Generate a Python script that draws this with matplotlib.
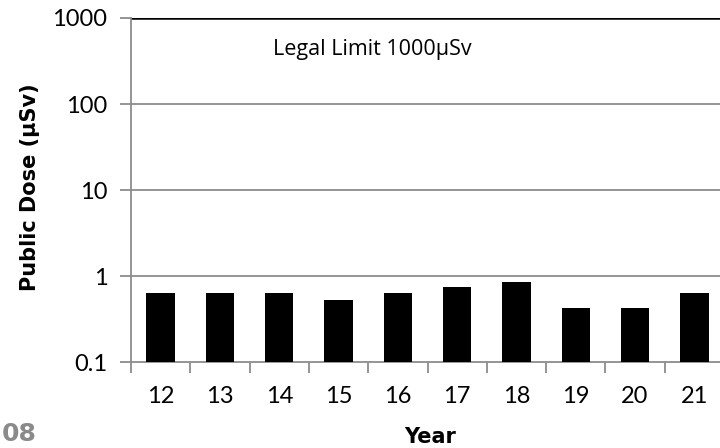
import numpy as np
import matplotlib.pyplot as plt

# Data
years = ['12', '13', '14', '15', '16', '17', '18', '19', '20', '21']
dose = [0.63, 0.63, 0.63, 0.53, 0.63, 0.74, 0.85, 0.42, 0.42, 0.63]
legal_limit = 1000
y_ticks = [0.1, 1, 10, 100, 1000]
y_tick_labels = ['0.1', '1', '10', '100', '1000']

tick_font = 'Lato'
grey = '#8c8c8c'

fig = plt.figure(figsize=(7.2, 4.48), dpi=100)
ax = fig.add_axes([131 / 720, 1 - 362 / 448, 593 / 720, 344 / 448])

x = np.arange(len(years))
ax.bar(x, dose, width=0.48, color='black', zorder=3)

ax.set_yscale('log')
ax.set_ylim(0.1, 1000)
ax.set_xlim(-0.5, len(years) - 0.5)

# gridlines and legal limit line
for v in y_ticks[1:-1]:
    ax.axhline(v, color=grey, lw=1.3, zorder=1)
ax.axhline(legal_limit, color='black', lw=1.8, zorder=2)
ax.text(1.89, 371, 'Legal Limit 1000µSv', fontsize=15.5, family='Open Sans', va='baseline')

ax.set_yticks(y_ticks)
ax.set_yticklabels(y_tick_labels, family=tick_font, fontsize=17)
ax.yaxis.set_minor_locator(plt.NullLocator())
ax.set_xticks(x)
ax.set_xticklabels(years, family=tick_font, fontsize=17)
ax.set_xticks(np.arange(len(years) + 1) - 0.5, minor=True)
ax.tick_params(axis='x', which='major', length=0, pad=17)
ax.tick_params(axis='x', which='minor', length=8, color=grey, width=1.3)
ax.tick_params(axis='y', length=8, color=grey, width=1.3, pad=9)

for s in ['top', 'right']:
    ax.spines[s].set_visible(False)
for s in ['left', 'bottom']:
    ax.spines[s].set_color(grey)
    ax.spines[s].set_linewidth(1.3)

ax.set_ylabel('Public Dose (µSv)', fontsize=15, fontweight='bold', family='DejaVu Sans')
ax.yaxis.set_label_coords(-0.153, 0.509)
ax.set_xlabel('Year', fontsize=15, fontweight='bold', family='DejaVu Sans')
ax.xaxis.set_label_coords(0.504, -0.189)

# page number fragment at bottom-left
fig.text(37 / 720, 2 / 448, '08', fontsize=18, fontweight='bold', color='#8a8a8a',
         family='DejaVu Sans', ha='right', va='bottom')

fig.savefig('out.png', dpi=100)
